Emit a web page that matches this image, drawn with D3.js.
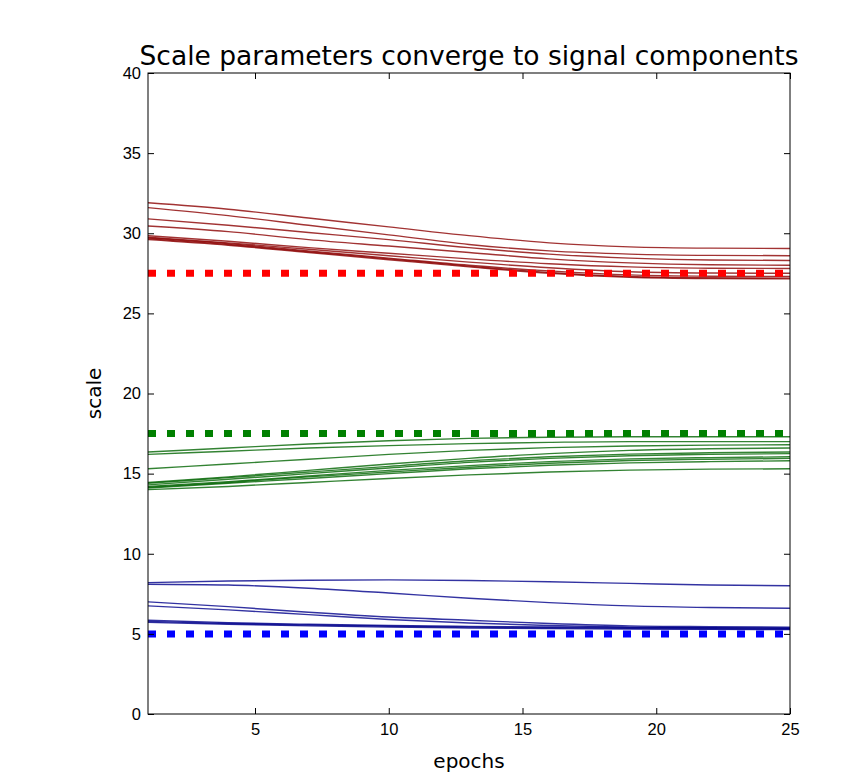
<!DOCTYPE html>
<html lang="en">
<head>
<meta charset="UTF-8" />
<title>Scale parameters</title>
<style>
  * { margin:0; padding:0; }
  body { background:#fff; width:845px; height:777px; overflow:hidden; }
  svg { display:block; font-family:'DejaVu Sans',sans-serif; }
  .frame { fill:none; stroke:#000; stroke-width:1; }
  .tick line { stroke:#000; }
  .tick text { font-size:16.5px; fill:#000; }
</style>
</head>
<body>
<script src="https://d3js.org/d3.v7.min.js"></script>
<script>
  // sampled epochs
  const epochs = [1, 4, 7, 10, 13, 16, 19, 22, 25];
  const xTicks = [5, 10, 15, 20, 25];
  const yTicks = [0, 5, 10, 15, 20, 25, 30, 35, 40];

  // true signal components (dotted lines)
  const targets = [
    { value: 27.5, color: '#ff0000' },
    { value: 17.5, color: '#008000' },
    { value: 5.0,  color: '#0000ff' }
  ];

  // learned scale parameters per run, read at the sampled epochs
  const redRuns = [
    [31.9, 31.5, 30.95, 30.4, 29.85, 29.4, 29.15, 29.07, 29.05],
    [31.6, 31.1, 30.5, 29.9, 29.3, 28.9, 28.7, 28.62, 28.6],
    [30.9, 30.5, 30.05, 29.6, 29.1, 28.7, 28.45, 28.33, 28.3],
    [30.45, 30.1, 29.6, 29.2, 28.8, 28.4, 28.15, 28.03, 28.0],
    [29.85, 29.5, 29.1, 28.75, 28.4, 28.1, 27.9, 27.82, 27.8],
    [29.75, 29.4, 29.0, 28.6, 28.2, 27.85, 27.6, 27.52, 27.5],
    [29.7, 29.35, 28.9, 28.45, 28.0, 27.65, 27.4, 27.32, 27.3],
    [29.65, 29.3, 28.85, 28.4, 27.95, 27.55, 27.3, 27.22, 27.2],
    [29.6, 29.25, 28.8, 28.35, 27.9, 27.5, 27.25, 27.17, 27.15]
  ];
  const greenRuns = [
    [16.35, 16.6, 16.85, 17.05, 17.2, 17.27, 17.3, 17.3, 17.3],
    [16.2, 16.4, 16.6, 16.75, 16.87, 16.95, 17.0, 17.0, 17.0],
    [15.3, 15.6, 15.9, 16.2, 16.45, 16.62, 16.72, 16.78, 16.8],
    [14.45, 14.8, 15.2, 15.6, 15.95, 16.25, 16.45, 16.55, 16.6],
    [14.4, 14.75, 15.1, 15.45, 15.8, 16.05, 16.22, 16.3, 16.35],
    [14.3, 14.65, 15.0, 15.35, 15.7, 15.95, 16.12, 16.2, 16.25],
    [14.2, 14.5, 14.85, 15.2, 15.5, 15.75, 15.92, 16.0, 16.05],
    [14.15, 14.45, 14.8, 15.1, 15.4, 15.65, 15.82, 15.9, 15.95],
    [14.1, 14.4, 14.7, 15.0, 15.3, 15.52, 15.67, 15.75, 15.8],
    [14.0, 14.2, 14.45, 14.7, 14.92, 15.1, 15.22, 15.28, 15.3]
  ];
  const blueRuns = [
    [8.2, 8.3, 8.35, 8.37, 8.33, 8.25, 8.15, 8.05, 8.0],
    [8.1, 8.05, 7.85, 7.55, 7.22, 6.95, 6.75, 6.65, 6.6],
    [7.0, 6.7, 6.35, 6.05, 5.85, 5.65, 5.5, 5.45, 5.42],
    [6.75, 6.5, 6.2, 5.9, 5.68, 5.52, 5.42, 5.38, 5.35],
    [5.85, 5.7, 5.6, 5.52, 5.47, 5.43, 5.4, 5.38, 5.37],
    [5.78, 5.65, 5.55, 5.48, 5.42, 5.38, 5.35, 5.32, 5.3],
    [5.72, 5.6, 5.5, 5.42, 5.37, 5.33, 5.3, 5.28, 5.27]
  ];

  const W = 845, H = 777;
  const m = { left: 148, right: 55, top: 73, bottom: 63 };
  const iw = W - m.left - m.right, ih = H - m.top - m.bottom;

  const svg = d3.select('body').append('svg').attr('width', W).attr('height', H);
  const g = svg.append('g').attr('transform', `translate(${m.left},${m.top})`);

  const x = d3.scaleLinear().domain([1, 25]).range([0, iw]);
  const y = d3.scaleLinear().domain([0, 40]).range([ih, 0]);

  g.append('defs').append('clipPath').attr('id', 'clip')
    .append('rect').attr('width', iw).attr('height', ih);
  const plot = g.append('g').attr('clip-path', 'url(#clip)');

  const line = d3.line().x((d, i) => x(epochs[i])).y(d => y(d)).curve(d3.curveMonotoneX);

  // runs
  function drawRuns(runs, color) {
    plot.append('g').selectAll('path').data(runs).join('path')
      .attr('d', line)
      .attr('fill', 'none')
      .attr('stroke', color)
      .attr('stroke-opacity', 0.8)
      .attr('stroke-width', 1.4);
  }
  drawRuns(redRuns, '#8b0000');
  drawRuns(greenRuns, '#006400');
  drawRuns(blueRuns, '#00008b');

  // targets
  plot.append('g').selectAll('line').data(targets).join('line')
    .attr('x1', 0).attr('x2', iw)
    .attr('y1', d => y(d.value)).attr('y2', d => y(d.value))
    .attr('stroke', d => d.color)
    .attr('stroke-width', 7)
    .attr('stroke-dasharray', '8,11');

  // axes, ticks pointing inward on all four sides
  g.append('g').attr('transform', `translate(0,${ih})`)
    .call(d3.axisBottom(x).tickValues(xTicks).tickSize(-6).tickPadding(9))
    .call(a => a.select('.domain').remove());
  g.append('g')
    .call(d3.axisTop(x).tickValues(xTicks).tickSize(-6).tickFormat(''))
    .call(a => a.select('.domain').remove());
  g.append('g')
    .call(d3.axisLeft(y).tickValues(yTicks).tickSize(-6).tickPadding(7))
    .call(a => a.select('.domain').remove());
  g.append('g').attr('transform', `translate(${iw},0)`)
    .call(d3.axisRight(y).tickValues(yTicks).tickSize(-6).tickFormat(''))
    .call(a => a.select('.domain').remove());

  g.append('rect').attr('class', 'frame').attr('width', iw).attr('height', ih);

  // labels
  svg.append('text').attr('x', m.left + iw / 2).attr('y', 65)
    .attr('text-anchor', 'middle').attr('font-size', 26.5)
    .text('Scale parameters converge to signal components');
  svg.append('text').attr('x', m.left + iw / 2).attr('y', 768)
    .attr('text-anchor', 'middle').attr('font-size', 20)
    .text('epochs');
  svg.append('text')
    .attr('transform', `translate(101,${m.top + ih / 2}) rotate(-90)`)
    .attr('text-anchor', 'middle').attr('font-size', 20)
    .text('scale');
</script>
</body>
</html>
